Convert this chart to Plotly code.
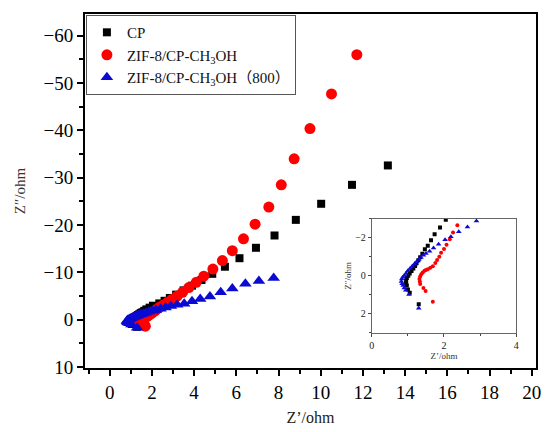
import plotly.graph_objects as go

# ---------------- data (Z' , Z'') ----------------
cp_x = [13.18, 11.48, 10.02, 8.82, 7.81, 6.93, 6.15, 5.46, 4.86, 4.35, 3.9, 3.5, 3.15, 2.85,
        2.6, 2.35, 2.05, 1.89, 1.74, 1.64, 1.55, 1.47, 1.4, 1.34, 1.29, 1.24, 1.2, 1.15,
        1.1, 1.05, 1.01, 0.97, 0.95, 0.95, 0.97, 1.0, 1.05, 1.3]
cp_y = [-32.6, -28.5, -24.5, -21.1, -17.8, -15.2, -13.0, -11.2, -9.7, -8.4, -7.2, -6.2, -5.3, -4.6,
        -4.0, -3.45, -2.96, -2.55, -2.19, -1.88, -1.59, -1.4, -1.16, -0.98, -0.82, -0.66, -0.52, -0.38,
        -0.25, -0.12, 0.0, 0.12, 0.25, 0.38, 0.51, 0.72, 0.89, 1.5]

zif_x = [11.71, 10.51, 9.49, 8.74, 8.13, 7.54, 6.89, 6.34, 5.81, 5.34, 4.89, 4.46, 4.1, 3.75,
         3.45, 3.2, 2.95, 2.75, 2.55, 2.37, 2.25, 2.16, 2.07, 2.0, 1.92, 1.87, 1.81, 1.76,
         1.69, 1.62, 1.55, 1.5, 1.46, 1.41, 1.37, 1.34, 1.32, 1.33, 1.34, 1.43, 1.49, 1.69]
zif_y = [-56.0, -47.7, -40.4, -34.0, -28.5, -23.8, -20.2, -17.1, -14.6, -12.5, -10.7, -9.2, -7.9, -6.8,
         -5.8, -5.0, -4.3, -3.7, -3.15, -2.67, -2.29, -1.93, -1.64, -1.42, -1.21, -1.01, -0.84, -0.67,
         -0.51, -0.42, -0.35, -0.3, -0.26, -0.17, -0.08, 0.04, 0.17, 0.3, 0.43, 0.65, 0.8, 1.37]

zif800_x = [7.77, 7.07, 6.43, 5.81, 5.26, 4.75, 4.29, 3.9, 3.53, 3.2, 2.9, 2.65, 2.41, 2.19,
            2.03, 1.85, 1.71, 1.6, 1.5, 1.43, 1.36, 1.3, 1.24, 1.18, 1.12, 1.06, 1.0, 0.95,
            0.9, 0.86, 0.83, 0.82, 0.84, 0.87, 0.9, 0.94, 1.03, 1.3]
zif800_y = [-8.8, -8.2, -7.6, -6.6, -5.8, -4.9, -4.4, -3.9, -3.4, -3.15, -2.89, -2.58, -2.32, -2.06,
            -1.9, -1.67, -1.47, -1.3, -1.18, -1.09, -0.97, -0.86, -0.74, -0.62, -0.5, -0.38, -0.26, -0.14,
            -0.02, 0.08, 0.17, 0.3, 0.42, 0.51, 0.64, 0.77, 0.99, 1.71]

names = ["CP", "ZIF-8/CP-CH<sub>3</sub>OH", "ZIF-8/CP-CH<sub>3</sub>OH（800）"]
colors = ["#000000", "#ff0000", "#0a0ad2"]
symbols = ["square", "circle", "triangle-up"]
main_sizes = [8, 11, 11]
inset_sizes = [4, 4, 5]

x_ticks = list(range(0, 21, 2))
y_ticks = list(range(-60, 11, 10))
inset_x_ticks = [0, 2, 4]
inset_y_ticks = [-2, 0, 2]

series = [(cp_x, cp_y), (zif_x, zif_y), (zif800_x, zif800_y)]

fig = go.Figure()
for i, (xs, ys) in enumerate(series):
    fig.add_trace(go.Scatter(x=xs, y=ys, mode="markers", name=names[i],
                             marker=dict(symbol=symbols[i], color=colors[i], size=main_sizes[i],
                                         line=dict(width=0)),
                             xaxis="x", yaxis="y"))
for i, (xs, ys) in enumerate(series):
    fig.add_trace(go.Scatter(x=xs, y=ys, mode="markers", showlegend=False,
                             marker=dict(symbol=symbols[i], color=colors[i], size=inset_sizes[i],
                                         line=dict(width=0)),
                             xaxis="x2", yaxis="y2"))

serif = "Liberation Serif, Times New Roman, Noto Sans CJK SC, serif"

fig.update_layout(
    width=549, height=432,
    margin=dict(l=85, r=8, t=14, b=59),
    paper_bgcolor="white", plot_bgcolor="white",
    showlegend=True,
    legend=dict(x=0.002, y=0.997, xanchor="left", yanchor="top",
                bgcolor="white", bordercolor="#555555", borderwidth=1,
                font=dict(family=serif, size=15, color="#111111"),
                tracegroupgap=0, itemsizing="trace"),
    xaxis=dict(domain=[0, 1], range=[-1.17, 20.2], tickvals=x_ticks,
               showgrid=False, zeroline=False,
               showline=True, linecolor="black", linewidth=2, mirror=True,
               ticks="outside", ticklen=6, tickwidth=2, tickcolor="black",
               minor=dict(ticks="outside", ticklen=4, tickwidth=2, dtick=1, tick0=0, tickcolor="black"),
               tickfont=dict(family=serif, size=19, color="black"),
               title=dict(text="Z’/ohm", font=dict(family=serif, size=16, color="#222222"), standoff=10)),
    yaxis=dict(domain=[0, 1], range=[10.2, -64.6], tickvals=y_ticks,
               showgrid=False, zeroline=False,
               showline=True, linecolor="black", linewidth=2, mirror=True,
               ticks="outside", ticklen=6, tickwidth=2, tickcolor="black",
               minor=dict(ticks="outside", ticklen=4, tickwidth=2, dtick=5, tick0=0, tickcolor="black"),
               tickfont=dict(family=serif, size=19, color="black"),
               title=dict(text="Z″/ohm", font=dict(family=serif, size=15, color="#333333"), standoff=14)),
    xaxis2=dict(domain=[0.636, 0.956], anchor="y2", range=[0, 4], tickvals=inset_x_ticks,
                showgrid=False, zeroline=False,
                showline=True, linecolor="#666666", linewidth=1, mirror=True,
                ticks="outside", ticklen=3, tickwidth=1, tickcolor="#444444",
                minor=dict(ticks="outside", ticklen=2, dtick=1, tick0=0, tickcolor="#444444"),
                tickfont=dict(family=serif, size=10, color="#222222"),
                title=dict(text="Z’/ohm", font=dict(family=serif, size=9, color="#333333"), standoff=2)),
    yaxis2=dict(domain=[0.100, 0.421], anchor="x2", range=[3, -3], tickvals=inset_y_ticks,
                showgrid=False, zeroline=False,
                showline=True, linecolor="#666666", linewidth=1, mirror=True,
                ticks="outside", ticklen=3, tickwidth=1, tickcolor="#444444",
                minor=dict(ticks="outside", ticklen=2, dtick=1, tick0=0, tickcolor="#444444"),
                tickfont=dict(family=serif, size=10, color="#222222"),
                title=dict(text="Z″/ohm", font=dict(family=serif, size=9, color="#333333"), standoff=2)),
)

fig.write_html("out.html")
